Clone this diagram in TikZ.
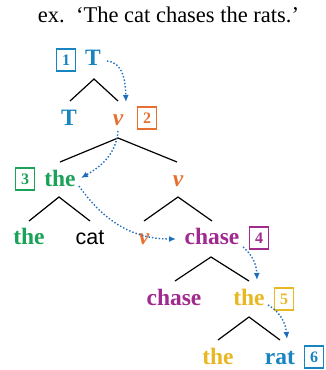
\documentclass[tikz,border=0pt]{standalone}
\usepackage{fontspec}
\setmainfont{Liberation Serif}
\newfontfamily\catfont{Liberation Sans}
\usetikzlibrary{arrows.meta,calc}

\definecolor{tblue}{RGB}{24,132,192}
\definecolor{vorange}{RGB}{230,112,48}
\definecolor{dgreen}{RGB}{28,162,88}
\definecolor{npurple}{RGB}{160,42,142}
\definecolor{dyellow}{RGB}{232,184,36}
\definecolor{movblue}{RGB}{30,108,190}

\tikzset{
  word/.style={anchor=base,inner sep=0pt,font=\fontsize{23.5}{23.5}\selectfont\bfseries},
  vword/.style={word,font=\fontsize{23.5}{23.5}\selectfont\bfseries\itshape,text=vorange},
  numbox/.style={draw,line width=1.1pt,inner sep=0pt,minimum width=18.5pt,minimum height=22pt,
    font=\fontsize{16}{16}\selectfont\bfseries},
  branch/.style={line width=1.2pt,black},
  move/.style={line width=1.4pt,dotted,movblue,-{Latex[length=7pt,width=6pt]}}
}

\begin{document}
\begin{tikzpicture}[x=1pt,y=-1pt]
\useasboundingbox (0,0) rectangle (326,370);

% sentence
\node[anchor=base,inner sep=0pt,font=\fontsize{22.5}{22.5}\selectfont] (title) at (168.5,22)
  {ex.\ \ ‘The cat chases the rats.’};

% TP
\node[word,text=tblue] (T0) at (93,65) {T};
\node[numbox,tblue] (n1) at (66,60) {1};
\coordinate (a1) at (94,79);
\coordinate (a1l) at (70,101);
\coordinate (a1r) at (118,101);
\draw[branch] (a1l) -- (a1) -- (a1r);
\node[word,text=tblue] (T1) at (69,125) {T};
\node[vword] (v1) at (118,125) {v};
\node[numbox,vorange] (n2) at (147,118) {2};

% vP
\coordinate (a2) at (118,138);
\coordinate (a2l) at (60,162);
\coordinate (a2r) at (177,162);
\draw[branch] (a2l) -- (a2) -- (a2r);
\node[numbox,dgreen] (n3) at (25,179) {3};
\node[word,text=dgreen] (the3) at (60,186) {the};
\node[vword] (v3) at (178,186) {v};

% subject DP
\coordinate (a3) at (59,197);
\coordinate (a3l) at (29,221);
\coordinate (a3r) at (90,221);
\draw[branch] (a3l) -- (a3) -- (a3r);
\node[word,text=dgreen] (the4) at (29,244) {the};
\node[anchor=base,inner sep=0pt,font=\fontsize{21.5}{21.5}\catfont] (cat) at (90,244) {cat};

% v'
\coordinate (b3) at (178,197);
\coordinate (b3l) at (144,221);
\coordinate (b3r) at (212,221);
\draw[branch] (b3l) -- (b3) -- (b3r);
\node[vword] (v4) at (144,244) {v};
\node[word,text=npurple] (chase4) at (212,244) {chase};
\node[numbox,npurple] (n4) at (259,238) {4};

% VP
\coordinate (a4) at (211,257);
\coordinate (a4l) at (175,281);
\coordinate (a4r) at (249,281);
\draw[branch] (a4l) -- (a4) -- (a4r);
\node[word,text=npurple] (chase5) at (174,305) {chase};
\node[word,text=dyellow] (the5) at (249,305) {the};
\node[numbox,dyellow] (n5) at (284,299) {5};

% object DP
\coordinate (a5) at (249,317);
\coordinate (a5l) at (218,340);
\coordinate (a5r) at (280,340);
\draw[branch] (a5l) -- (a5) -- (a5r);
\node[word,text=dyellow] (the6) at (218,364) {the};
\node[word,text=tblue] (rat6) at (280,364) {rat};
\node[numbox,tblue] (n6) at (314,357) {6};

% order of spell-out
\coordinate (m1s) at (107,61);
\coordinate (m1e) at (126,102);
\draw[move] (m1s) to[out=-5,in=92] (m1e);
\coordinate (m2s) at (118,131);
\coordinate (m2e) at (81,178);
\draw[move] (m2s) to[out=-95,in=30] (m2e);
\coordinate (m3s) at (79,186);
\coordinate (m3e) at (176,239);
\draw[move] (m3s) to[out=-55,in=180] (m3e);
\coordinate (m4s) at (243,247);
\coordinate (m4e) at (257,280);
\draw[move] (m4s) to[out=-40,in=92] (m4e);
\coordinate (m5s) at (268,305);
\coordinate (m5e) at (287,339);
\draw[move] (m5s) to[out=-30,in=95] (m5e);
\end{tikzpicture}
\end{document}
